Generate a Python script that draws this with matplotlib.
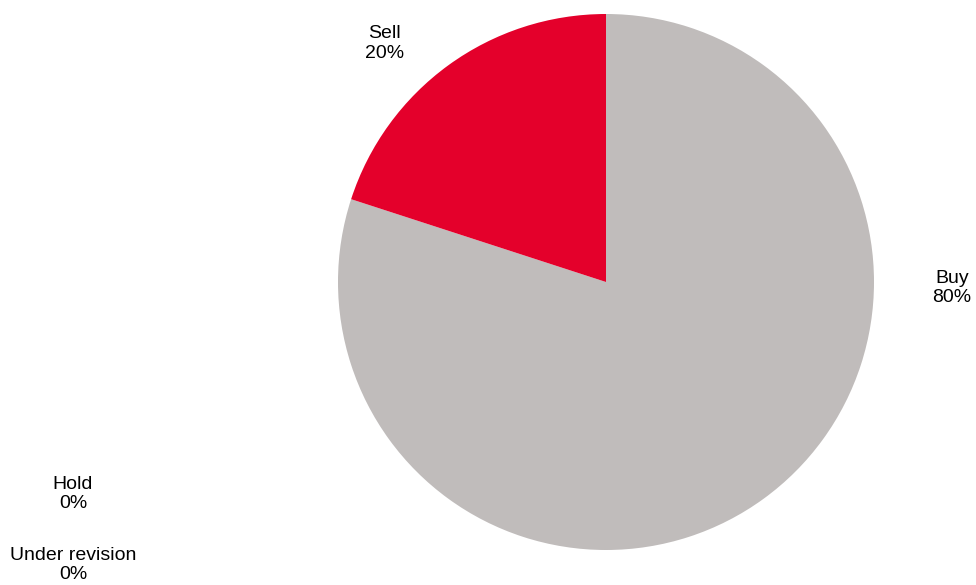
import matplotlib.pyplot as plt

# Répartition des recommandations
labels = ['Buy', 'Sell', 'Hold', 'Under revision']
shares = [80, 20, 0, 0]
colors = ['#C0BCBB', '#E4002B', '#8C8C8C', '#5A5A5A']

# positions des étiquettes (en rayons, centre du camembert = 0,0)
label_pos = {
    'Buy': (1.291, -0.022),
    'Sell': (-0.828, 0.89),
    'Hold': (-1.989, -0.791),
    'Under revision': (-1.989, -1.056),
}

plt.rcParams['font.family'] = ['Liberation Sans', 'DejaVu Sans']

fig = plt.figure(figsize=(9.76, 5.85), dpi=100)
cx, cy, r = 606, 282, 268
ax = fig.add_axes([(cx - r) / 976, (585 - cy - r) / 585, 2 * r / 976, 2 * r / 585])

vals = [v for v in shares if v > 0]
cols = [c for v, c in zip(shares, colors) if v > 0]
ax.pie(vals, colors=cols, startangle=90, counterclock=False, radius=1,
       wedgeprops={'linewidth': 0})
ax.set_xlim(-1, 1)
ax.set_ylim(-1, 1)
ax.set_aspect('equal')
ax.axis('off')

for lab, v in zip(labels, shares):
    x, y = label_pos[lab]
    ax.text(x, y, f'{lab}\n{v}%', ha='center', va='center', fontsize=14,
            color='#000000', clip_on=False, linespacing=1.2)

fig.savefig('out.png', dpi=100)
